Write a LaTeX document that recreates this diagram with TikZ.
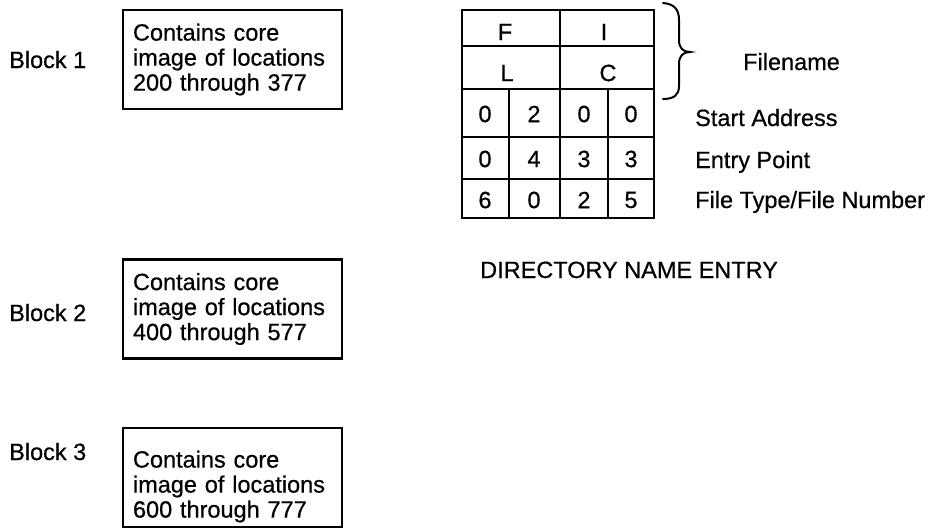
\documentclass[tikz,border=0pt]{standalone}
\usepackage{fontspec}
\setmainfont{Liberation Sans}[FakeBold=0.6,BoldFont=Liberation Sans]
\begin{document}
\begin{tikzpicture}[x=1pt,y=-1pt,
  txt/.style={font=\fontsize{23.5}{25}\selectfont\bfseries, inner sep=0pt},
  blockbox/.style={draw, line width=2.2pt, txt, text width=199pt, inner xsep=10pt, inner ysep=0pt, align=left, minimum height=99pt},
  gridline/.style={line width=1.8pt},
  cell/.style={txt}]
\useasboundingbox (0,0) rectangle (945,531);
% blocks
\node[blockbox] (b1) at (232.5,59.5) {Contains core\\image of locations\\200 through 377};
\node[blockbox] (b2) at (232.5,309) {Contains core\\image of locations\\400 through 577};
\node[blockbox] (b3) at (232.5,477.5) {\rule{0pt}{35pt}Contains core\\image of locations\\600 through 777};
\node[txt, anchor=base west] (l1) at (9,68) {Block 1};
\node[txt, anchor=base west] (l2) at (9,321) {Block 2};
\node[txt, anchor=base west] (l3) at (9,460) {Block 3};
% table grid
\draw[gridline] (462,10) rectangle (654,218);
\draw[gridline] (462,46) -- (654,46);
\draw[gridline] (462,89) -- (654,89);
\draw[gridline] (462,137) -- (654,137);
\draw[gridline] (462,179) -- (654,179);
\draw[gridline] (560,10) -- (560,218);
\draw[gridline] (509,89) -- (509,218);
\draw[gridline] (608,89) -- (608,218);
% table text
\node[cell] (cF) at (505,32) {F};
\node[cell] (cI) at (604,32) {I};
\node[cell] (cL) at (507,73) {L};
\node[cell] (cC) at (608,73) {C};
\node[cell] (a1) at (485,114) {0};
\node[cell] (a2) at (534,114) {2};
\node[cell] (a3) at (584,114) {0};
\node[cell] (a4) at (631,114) {0};
\node[cell] (e1) at (485,159) {0};
\node[cell] (e2) at (534,159) {4};
\node[cell] (e3) at (584,159) {3};
\node[cell] (e4) at (631,159) {3};
\node[cell] (t1) at (485,200) {6};
\node[cell] (t2) at (534,200) {0};
\node[cell] (t3) at (584,200) {2};
\node[cell] (t4) at (631,200) {5};
% brace
\draw[line width=2pt, line cap=round]
  (663,3) .. controls (674,4) and (679,9) .. (679,20) -- (679,40)
  .. controls (679,48) and (683,52) .. (690,52)
  .. controls (683,52) and (679,56) .. (679,64) -- (679,86)
  .. controls (679,95) and (674,99) .. (663,99);
% side labels
\node[txt, anchor=base west] (fn) at (743,70) {Filename};
\node[txt, anchor=base west] (sa) at (695,126) {Start Address};
\node[txt, anchor=base west] (ep) at (695,168) {Entry Point};
\node[txt, anchor=base west] (ft) at (695,208) {File Type/File Number};
\node[txt, anchor=base west] (dn) at (480,278) {DIRECTORY NAME ENTRY};
\end{tikzpicture}
\end{document}
